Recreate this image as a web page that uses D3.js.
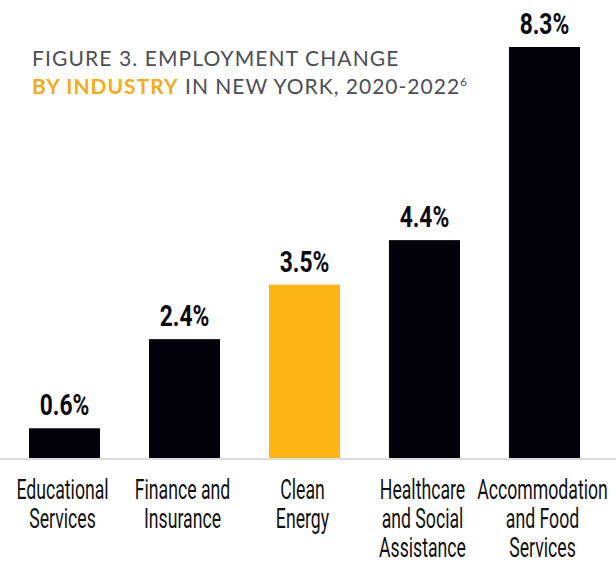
<!DOCTYPE html>
<html>
<head>
<meta charset="utf-8">
<script src="https://cdn.jsdelivr.net/npm/d3@7/dist/d3.min.js"></script>
<style>
  html, body { margin: 0; padding: 0; background: #fff; }
  svg { display: block; }
</style>
</head>
<body>
<svg id="chart" width="616" height="561"></svg>
<script>
// Employment change by industry, New York 2020-2022
const categories = [
  ["Educational", "Services"],
  ["Finance and", "Insurance"],
  ["Clean", "Energy"],
  ["Healthcare", "and Social", "Assistance"],
  ["Accommodation", "and Food", "Services"]
];
const values = [0.6, 2.4, 3.5, 4.4, 8.3];
const highlight = [false, false, true, false, false];
const valueLabels = ["0.6%", "2.4%", "3.5%", "4.4%", "8.3%"];

const W = 616, H = 561;
const baseY = 458;
const svg = d3.select("#chart");

const x = d3.scaleBand()
  .domain(d3.range(values.length))
  .range([5, 604])
  .paddingInner(0.408)
  .paddingOuter(0.2);

const y = d3.scaleLinear()
  .domain([0, 8.3])
  .range([baseY, 47]);

// Roboto squeezed horizontally stands in for a condensed display face
const condensed = "Roboto, 'DejaVu Sans', sans-serif";
const catScale = 0.62;
const valScale = 0.76;

// title
const titleFont = "Lato, 'Open Sans', sans-serif";
svg.append("text")
  .attr("x", 32).attr("y", 66)
  .attr("font-family", titleFont)
  .attr("font-size", 21)
  .attr("letter-spacing", 1.1)
  .attr("fill", "#4b4e56")
  .text("FIGURE 3. EMPLOYMENT CHANGE");

const t2 = svg.append("text")
  .attr("x", 32).attr("y", 94)
  .attr("font-family", titleFont)
  .attr("font-size", 21)
  .attr("letter-spacing", 1)
  .attr("fill", "#4b4e56");
t2.append("tspan").attr("font-weight", 700).attr("fill", "#f4ac1b").text("BY INDUSTRY");
t2.append("tspan").text(" IN NEW YORK, 2020-2022");
t2.append("tspan").attr("font-size", 12).attr("dy", -8).attr("letter-spacing", 0).text("6");

// bars
svg.append("g").selectAll("rect")
  .data(values)
  .join("rect")
  .attr("x", (d, i) => x(i))
  .attr("width", x.bandwidth())
  .attr("y", d => y(d))
  .attr("height", d => baseY - y(d))
  .attr("fill", (d, i) => highlight[i] ? "#fdb515" : "#03020a");

// baseline
svg.append("line")
  .attr("x1", 0).attr("x2", W)
  .attr("y1", baseY + 1).attr("y2", baseY + 1)
  .attr("stroke", "#dcdcdc").attr("stroke-width", 2);

// value labels
svg.append("g").selectAll("text")
  .data(values)
  .join("text")
  .attr("transform", (d, i) => `translate(${x(i) + x.bandwidth() / 2},${y(d) - 13}) scale(${valScale},1)`)
  .attr("text-anchor", "middle")
  .attr("font-family", condensed)
  .attr("font-weight", 700)
  .attr("font-size", 30)
  .attr("fill", "#0a0a10")
  .text((d, i) => valueLabels[i]);

// category labels
const cat = svg.append("g").selectAll("text")
  .data(categories)
  .join("text")
  .attr("transform", (d, i) => `translate(${x(i) + x.bandwidth() / 2 - 2},499) scale(${catScale},1)`)
  .attr("text-anchor", "middle")
  .attr("font-family", condensed)
  .attr("font-size", 28.5)
  .attr("fill", "#111");
cat.selectAll("tspan")
  .data(d => d)
  .join("tspan")
  .attr("x", 0)
  .attr("dy", (d, j) => j === 0 ? 0 : 29)
  .text(d => d);
</script>
</body>
</html>
